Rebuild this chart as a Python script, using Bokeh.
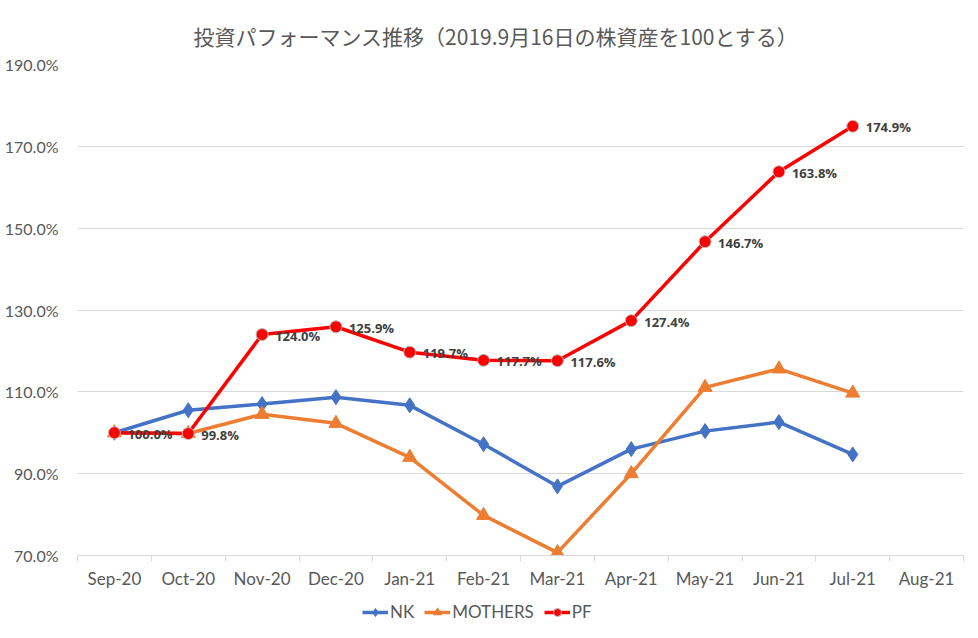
from bokeh.plotting import figure
from bokeh.layouts import column
from bokeh.models import FixedTicker, PrintfTickFormatter, Legend, LegendItem, ColumnDataSource, Range1d, LabelSet
from bokeh.core.properties import value
from bokeh.embed import file_html
from bokeh.resources import INLINE

months = ["Sep-20", "Oct-20", "Nov-20", "Dec-20", "Jan-21", "Feb-21", "Mar-21",
          "Apr-21", "May-21", "Jun-21", "Jul-21", "Aug-21"]
nk = [100.0, 105.5, 107.0, 108.7, 106.7, 97.2, 86.9, 96.0, 100.4, 102.6, 94.7]
mothers = [100.0, 99.8, 104.5, 102.3, 94.0, 79.8, 70.7, 90.0, 111.1, 115.6, 109.7]
pf = [100.0, 99.8, 124.0, 125.9, 119.7, 117.7, 117.6, 127.4, 146.7, 163.8, 174.9]
series_names = ["NK", "MOTHERS", "PF"]
y_ticks = [70, 90, 110, 130, 150, 170, 190]
title_text = "投資パフォーマンス推移（2019.9月16日の株資産を100とする）"

idx = list(range(len(nk)))
font = "Lato"
gray = "#595959"
blue = "#4472C4"
orange = "#ED7D31"
red = "#FF0000"

p = figure(output_backend="svg", toolbar_location=None,
           frame_width=886, frame_height=491,
           x_range=Range1d(-0.5, len(months) - 0.5), y_range=Range1d(70, 190),
           min_border_left=77, min_border_right=7, min_border_top=64, min_border_bottom=40)

p.title.text = title_text
p.title.align = "left"
p.title.offset = 116
p.title.text_font = "Noto Sans CJK JP"
p.title.text_font_style = "normal"
p.title.text_font_size = "21px"
p.title.text_color = gray
p.title.standoff = 28

p.outline_line_color = None
p.xgrid.grid_line_color = None
p.ygrid.grid_line_color = "#d9d9d9"
p.ygrid.grid_line_width = 1

p.yaxis.ticker = FixedTicker(ticks=y_ticks)
p.yaxis.formatter = PrintfTickFormatter(format="%.1f%%")
p.yaxis.axis_line_color = None
p.yaxis.major_tick_line_color = None
p.yaxis.minor_tick_line_color = None
p.yaxis.major_label_text_font = font
p.yaxis.major_label_text_font_size = "16px"
p.yaxis.major_label_text_color = gray
p.yaxis.major_label_standoff = 13

p.xaxis.ticker = FixedTicker(ticks=list(range(len(months))),
                             minor_ticks=[i - 0.5 for i in range(len(months) + 1)])
p.xaxis.major_label_overrides = {i: m for i, m in enumerate(months)}
p.xaxis.axis_line_color = "#d9d9d9"
p.xaxis.major_tick_line_color = None
p.xaxis.minor_tick_line_color = "#d9d9d9"
p.xaxis.minor_tick_in = 0
p.xaxis.minor_tick_out = 6
p.xaxis.major_label_text_font = font
p.xaxis.major_label_text_font_size = "17px"
p.xaxis.major_label_text_color = gray
p.xaxis.major_label_standoff = 6

styles = [
    dict(color=blue, marker="diamond", size=15, outline=blue),
    dict(color=orange, marker="triangle", size=14, outline=orange),
    dict(color=red, marker="circle", size=12, outline="#bfbfbf"),
]
series = [nk, mothers, pf]

for data, st in zip(series, styles):
    p.line(idx, data, line_color=st["color"], line_width=3.5)
    p.scatter(idx, data, marker=st["marker"], size=st["size"], fill_color=st["color"],
              line_color=st["outline"], line_width=1)

src = ColumnDataSource(dict(x=idx, y=pf, t=["%.1f%%" % v for v in pf]))
labels = LabelSet(x="x", y="y", text="t", source=src, x_offset=13, y_offset=-1,
                  text_baseline="middle", text_align="left",
                  text_font=value("Open Sans"), text_font_style="bold",
                  text_font_size="13px", text_color="#404040")
p.add_layout(labels)

# legend strip below the chart (series drawn off-view, only their legend symbols show)
lg = figure(output_backend="svg", toolbar_location=None, frame_width=970, frame_height=43,
            x_range=Range1d(-0.5, len(months) - 0.5), y_range=Range1d(0, 1), min_border=0)
lg.axis.visible = False
lg.grid.grid_line_color = None
lg.outline_line_color = None
items = []
for name, data, st in zip(series_names, series, styles):
    r1 = lg.line(idx, data, line_color=st["color"], line_width=3.5)
    r2 = lg.scatter(idx, data, marker=st["marker"], size=st["size"], fill_color=st["color"],
                    line_color=st["outline"], line_width=1)
    items.append(LegendItem(label=name, renderers=[r1, r2]))

legend = Legend(items=items, orientation="horizontal", location=(362, 16),
                border_line_color=None, background_fill_alpha=0,
                label_text_font=font, label_text_font_size="17px",
                label_text_color=gray, glyph_width=26, glyph_height=20,
                label_height=20, spacing=10, label_standoff=2, padding=2, margin=0)
lg.add_layout(legend)

layout = column(p, lg, spacing=0)
open("out.html", "w").write(file_html(layout, INLINE))
